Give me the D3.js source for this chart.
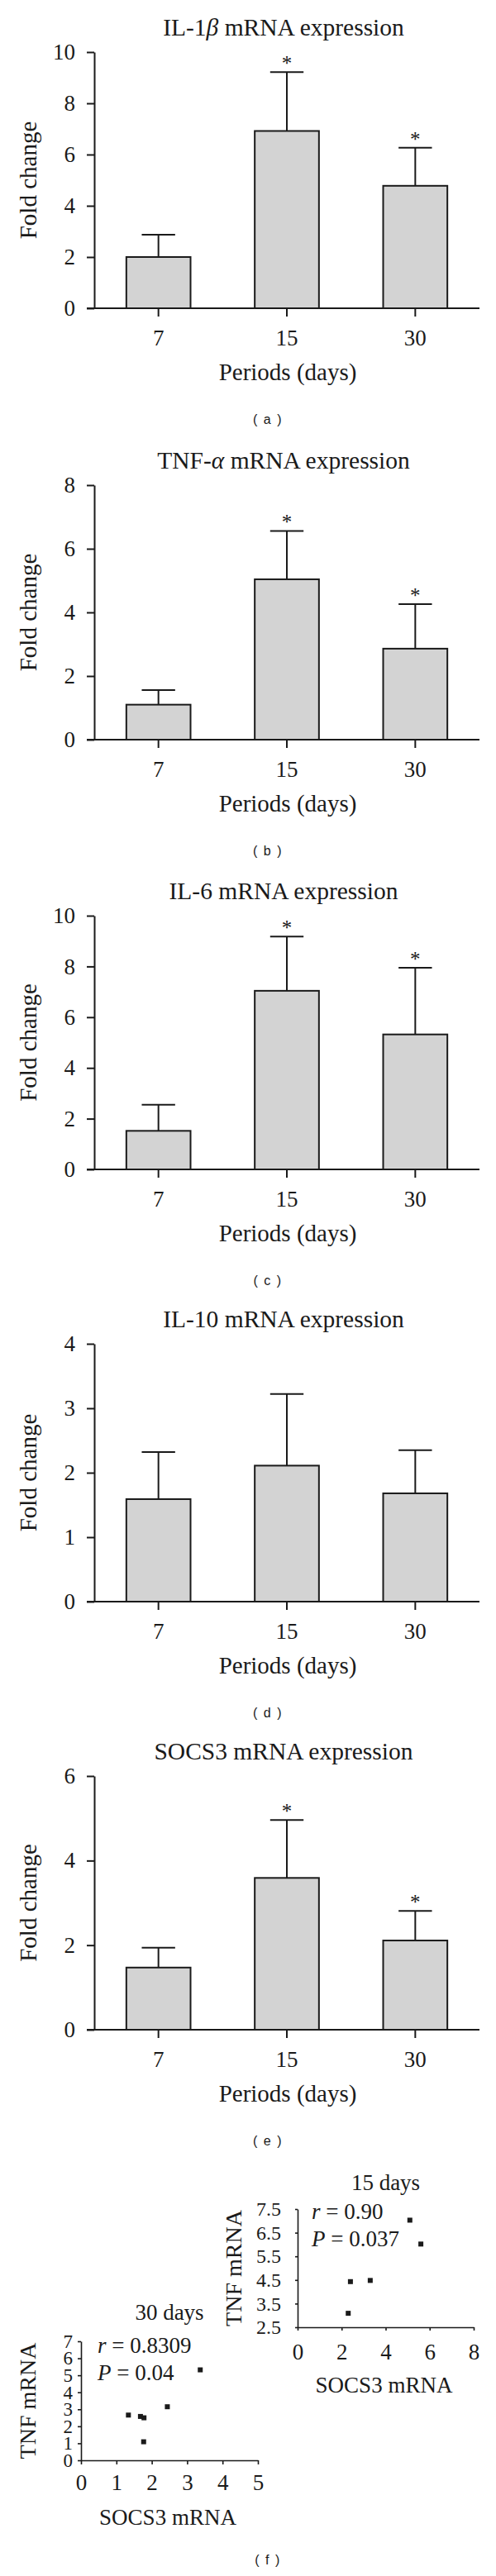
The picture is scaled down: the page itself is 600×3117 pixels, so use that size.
<!DOCTYPE html>
<html><head><meta charset="utf-8">
<script src="https://cdn.jsdelivr.net/npm/d3@7"></script>
<style>
html,body{margin:0;padding:0;background:#fff;}
svg{display:block;background:#fff;}
text{font-family:"Liberation Serif","Times New Roman",serif;fill:#1a1a1a;}
text.lab{font-family:"Liberation Sans",Arial,sans-serif;}
</style></head><body>
<svg id="chart" width="600" height="3117"></svg>
<script>
// ---------- data ----------
const periods = ["7", "15", "30"];

const il1bMean = [2.00, 6.92, 4.78];
const il1bErr  = [0.87, 2.30, 1.49];
const il1bSig  = [false, true, true];

const tnfMean = [1.10, 5.04, 2.86];
const tnfErr  = [0.46, 1.52, 1.40];
const tnfSig  = [false, true, true];

const il6Mean = [1.52, 7.04, 5.32];
const il6Err  = [1.03, 2.14, 2.63];
const il6Sig  = [false, true, true];

const il10Mean = [1.59, 2.11, 1.68];
const il10Err  = [0.73, 1.11, 0.67];
const il10Sig  = [false, false, false];

const socs3Mean = [1.47, 3.59, 2.11];
const socs3Err  = [0.47, 1.37, 0.70];
const socs3Sig  = [false, true, true];

const il1bTicks  = [0, 2, 4, 6, 8, 10];
const tnfTicks   = [0, 2, 4, 6, 8];
const il6Ticks   = [0, 2, 4, 6, 8, 10];
const il10Ticks  = [0, 1, 2, 3, 4];
const socs3Ticks = [0, 2, 4, 6];

// scatter (f)
const d30Socs3 = [1.34, 1.68, 1.78, 1.77, 2.44, 3.37];
const d30Tnf   = [2.66, 2.58, 2.50, 1.09, 3.15, 5.32];
const d30XTicks = [0, 1, 2, 3, 4, 5];
const d30YTicks = [0, 1, 2, 3, 4, 5, 6, 7];

const d15Socs3 = [5.10, 5.60, 2.40, 3.30, 2.30];
const d15Tnf   = [7.03, 6.02, 4.43, 4.48, 3.09];
const d15XTicks = [0, 2, 4, 6, 8];
const d15YTicks = [2.5, 3.5, 4.5, 5.5, 6.5, 7.5];

// ---------- drawing ----------
const svg = d3.select("#chart");
const INK = "#1a1a1a";
const AX_L = 114, AX_R = 580;
const x = d3.scaleBand().domain(periods).range([AX_L, AX_R]).paddingInner(0.5).paddingOuter(0.25);

const panels = [
  {title: ["IL-1", "β", " mRNA expression"], mean: il1bMean, err: il1bErr, sig: il1bSig, ticks: il1bTicks, top: 63, base: 373, letter: "( a )"},
  {title: ["TNF-", "α", " mRNA expression"], mean: tnfMean, err: tnfErr, sig: tnfSig, ticks: tnfTicks, top: 587, base: 895, letter: "( b )"},
  {title: ["IL-6 mRNA expression"], mean: il6Mean, err: il6Err, sig: il6Sig, ticks: il6Ticks, top: 1108, base: 1415, letter: "( c )"},
  {title: ["IL-10 mRNA expression"], mean: il10Mean, err: il10Err, sig: il10Sig, ticks: il10Ticks, top: 1626, base: 1938, letter: "( d )"},
  {title: ["SOCS3 mRNA expression"], mean: socs3Mean, err: socs3Err, sig: socs3Sig, ticks: socs3Ticks, top: 2149, base: 2456, letter: "( e )"}
];

function styleAxis(g, w) {
  g.selectAll("path.domain").attr("stroke", INK).attr("stroke-width", w);
  g.selectAll(".tick line").attr("stroke", INK).attr("stroke-width", w);
  g.selectAll(".tick text").attr("fill", INK).attr("font-family", '"Liberation Serif","Times New Roman",serif');
}

panels.forEach(p => {
  const g = svg.append("g");
  const max = p.ticks[p.ticks.length - 1];
  const y = d3.scaleLinear().domain([0, max]).range([p.base, p.top]);
  const data = periods.map((c, i) => ({c, m: p.mean[i], e: p.err[i], s: p.sig[i]}));

  // bars
  g.selectAll("rect.bar").data(data).join("rect")
    .attr("x", d => x(d.c)).attr("width", x.bandwidth())
    .attr("y", d => y(d.m)).attr("height", d => y(0) - y(d.m))
    .attr("fill", "#d3d3d3").attr("stroke", INK).attr("stroke-width", 2);
  // error bars
  const cx = d => x(d.c) + x.bandwidth() / 2;
  const capW = x.bandwidth() * 0.26;
  g.selectAll("line.ev").data(data).join("line")
    .attr("x1", cx).attr("x2", cx)
    .attr("y1", d => y(d.m)).attr("y2", d => y(d.m + d.e))
    .attr("stroke", INK).attr("stroke-width", 2);
  g.selectAll("line.ec").data(data).join("line")
    .attr("x1", d => cx(d) - capW).attr("x2", d => cx(d) + capW)
    .attr("y1", d => y(d.m + d.e)).attr("y2", d => y(d.m + d.e))
    .attr("stroke", INK).attr("stroke-width", 2);
  g.selectAll("text.star").data(data.filter(d => d.s)).join("text")
    .attr("x", cx).attr("y", d => y(d.m + d.e) - 2)
    .attr("text-anchor", "middle").attr("font-size", 25).text("*");

  // y axis
  const ya = g.append("g").attr("transform", `translate(${AX_L},0)`)
    .call(d3.axisLeft(y).tickValues(p.ticks).tickSize(9).tickSizeOuter(0).tickPadding(14).tickFormat(d3.format("d")));
  ya.attr("font-size", 27);
  styleAxis(ya, 2);
  // x axis
  const xa = g.append("g").attr("transform", `translate(0,${p.base})`)
    .call(d3.axisBottom(x).tickSize(10).tickSizeOuter(0).tickPadding(16));
  xa.attr("font-size", 27);
  xa.select("path.domain").attr("d", `M${AX_L - 9},0H${AX_R}`);
  styleAxis(xa, 2);

  // title
  const t = g.append("text").attr("x", 343).attr("y", p.top - 20)
    .attr("text-anchor", "middle").attr("font-size", 29.5);
  p.title.forEach((s, i) => {
    const ts = t.append("tspan").text(s);
    if (i === 1) ts.attr("font-style", "italic");
  });
  // y label
  g.append("text").attr("transform", `translate(44,${(p.top + p.base) / 2}) rotate(-90)`)
    .attr("text-anchor", "middle").attr("font-size", 29).text("Fold change");
  // x label
  g.append("text").attr("x", 348).attr("y", p.base + 87)
    .attr("text-anchor", "middle").attr("font-size", 29).text("Periods (days)");
  // panel letter
  g.append("text").attr("class", "lab").attr("x", 324).attr("y", p.base + 140)
    .attr("text-anchor", "middle").attr("font-size", 16).attr("letter-spacing", 1.5)
    .text(p.letter);
});

// ---------- scatter panels (f) ----------
function scatter(cfg) {
  const g = svg.append("g");
  const sx = d3.scaleLinear().domain(cfg.xd).range(cfg.xr);
  const sy = d3.scaleLinear().domain(cfg.yd).range(cfg.yr);
  const xa = g.append("g").attr("transform", `translate(0,${cfg.yr[0]})`)
    .call(d3.axisBottom(sx).tickValues(cfg.xt).tickSize(cfg.xts).tickSizeOuter(0).tickPadding(cfg.xtp).tickFormat(d3.format("d")));
  xa.attr("font-size", 27);
  styleAxis(xa, 1.6);
  const ya = g.append("g").attr("transform", `translate(${cfg.xr[0]},0)`)
    .call(d3.axisLeft(sy).tickValues(cfg.yt).tickSize(cfg.yts).tickSizeOuter(0).tickPadding(cfg.ytp).tickFormat(cfg.yf));
  ya.attr("font-size", cfg.yfs);
  styleAxis(ya, 1.6);

  g.selectAll("rect.pt").data(cfg.xs.map((v, i) => [v, cfg.ys[i]])).join("rect")
    .attr("x", d => sx(d[0]) - 3).attr("y", d => sy(d[1]) - 3)
    .attr("width", 6).attr("height", 6).attr("fill", INK);

  const cxm = (cfg.xr[0] + cfg.xr[1]) / 2;
  g.append("text").attr("x", cxm).attr("y", cfg.titleY).attr("text-anchor", "middle")
    .attr("font-size", 27).text(cfg.title);
  g.append("text").attr("x", cxm - 2).attr("y", cfg.xlabY).attr("text-anchor", "middle")
    .attr("font-size", 27).text("SOCS3 mRNA");
  g.append("text").attr("transform", `translate(${cfg.ylabX},${(cfg.yr[0] + cfg.yr[1]) / 2}) rotate(-90)`)
    .attr("text-anchor", "middle").attr("font-size", 28).text("TNF mRNA");
  const a1 = g.append("text").attr("x", cfg.annX).attr("y", cfg.annY[0]).attr("font-size", 27);
  a1.append("tspan").attr("font-style", "italic").text("r");
  a1.append("tspan").text(" = " + cfg.r);
  const a2 = g.append("text").attr("x", cfg.annX).attr("y", cfg.annY[1]).attr("font-size", 27);
  a2.append("tspan").attr("font-style", "italic").text("P");
  a2.append("tspan").text(" = " + cfg.p);
}

scatter({
  xd: [0, 5], xr: [98, 312], yd: [0, 7], yr: [2977, 2833],
  xt: d30XTicks, yt: d30YTicks, xts: 5, xtp: 12, yts: 4, ytp: 6, yfs: 23, yf: d3.format("d"),
  xs: d30Socs3, ys: d30Tnf,
  title: "30 days", titleY: 2807, xlabY: 3055, ylabX: 43,
  annX: 118, annY: [2847, 2880], r: "0.8309", p: "0.04"
});
scatter({
  xd: [0, 8], xr: [360, 573], yd: [2.5, 7.5], yr: [2816, 2673],
  xt: d15XTicks, yt: d15YTicks, xts: 4, xtp: 16, yts: 3, ytp: 17, yfs: 24, yf: d3.format(".1f"),
  xs: d15Socs3, ys: d15Tnf,
  title: "15 days", titleY: 2650, xlabY: 2895, ylabX: 292,
  annX: 377, annY: [2685, 2718], r: "0.90", p: "0.037"
});

svg.append("text").attr("class", "lab").attr("x", 324).attr("y", 3103)
  .attr("text-anchor", "middle").attr("font-size", 16).attr("letter-spacing", 1.5).text("( f )");
</script>
</body></html>
